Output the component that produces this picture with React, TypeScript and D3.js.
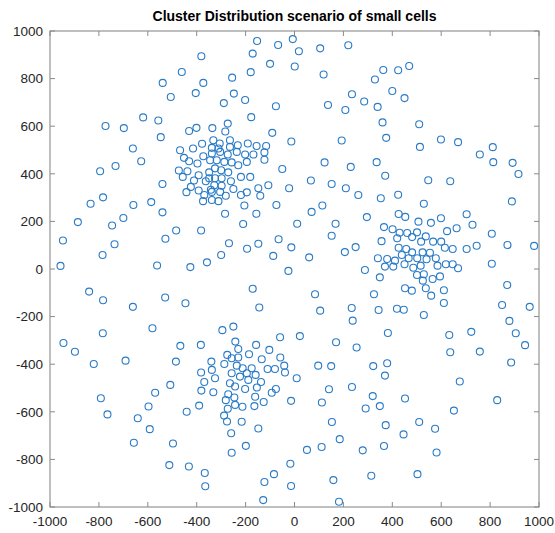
import React from "react";
import * as d3 from "d3";

const xs: number[] = [
  -381,-461,-539,-373,-404,-506,-619,-557,-773,-698,-401,-431,-336,-547,-378,-332,-661,-468,-415,-338,
  -153,-67,-7,18,105,220,-171,-100,1,-179,-255,119,329,-248,-289,-202,-76,-177,235,137,208,285,340,-273,-283,-91,-264,-306,-232,-191,-155,-116,-13,193,
  469,424,363,400,450,360,510,375,599,669,513,811,
  758,813,892,916,336,371,547,637,353,424,529,889,426,453,507,558,599,704,728,366,401,430,461,501,481,537,624,663,807,871,980,356,420,518,567,600,615,647,704,745,426,457,481,524,554,439,341,379,411,467,502,540,578,450,486,516,585,619,647,669,807,370,404,
  349,501,529,525,565,595,452,480,537,611,559,611,325,870,849,962,344,419,447,529,879,905,943,382,633,723,637,758,322,379,370,886,676,
  320,452,349,829,652,373,510,575,446,366,581,314,503,
  -271,-281,-246,-243,-273,-213,-164,-161,-126,-93,-76,-288,-276,-216,-259,-148,-199,-257,-14,112,141,235,291,153,185,51,111,279,-17,-84,-123,-14,159,-128,182,
  -792,-765,-641,-597,-570,-508,-592,-657,-497,-441,-390,-381,-332,-512,-432,-367,-365,
  -840,-783,-661,-529,-446,-581,-784,-945,-898,-821,-691,-467,-383,-485,-340,-382,-338,-369,-325,
  -795,-732,-627,-540,-783,-834,-659,-586,-540,-700,-746,-886,-947,-736,-785,-528,-484,-382,-957,-562,-426,-358,
  -452,-431,-397,-373,-345,-473,-438,-457,-392,-349,-411,-363,-424,-392,-442,-369,-342,-374,-338,
  -311,-264,-338,-304,-273,-236,-202,-168,-123,-123,-318,-287,-257,-230,-195,-325,-300,-271,-349,-325,-298,-260,-219,-181,-328,-298,-250,-338,-304,-219,-195,-281,-311,-148,-140,-107,-50,-22,67,123,230,152,210,261,-205,-74,114,-284,-156,70,296,-210,11,168,152,-268,-194,-148,-65,-13,-300,-87,60,206,250,-25,288,
  -171,84,-144,105,234,238,-250,-295,-59,22,170,254,-242,-230,-157,-103,-186,-275,-257,-230,-58,-134,-287,-236,-212,-175,-110,-80,-42,-39,-257,-195,-159,-223,-189,-264,-137,9,97,150,-243,-202,-154,
];

const ys: number[] = [
  894,828,782,782,739,723,637,624,601,592,593,580,592,554,526,541,506,499,506,509,
  958,941,966,915,927,940,905,862,851,827,804,817,796,737,697,710,684,638,734,689,668,704,681,611,578,572,541,527,520,527,517,517,536,540,
  853,835,836,748,718,616,608,551,544,533,513,512,
  481,449,446,399,449,392,373,369,297,312,274,284,231,219,199,194,213,230,186,176,167,152,151,154,134,137,159,171,148,101,97,117,129,115,115,115,89,84,84,98,89,84,70,70,68,59,45,42,35,45,45,41,45,20,5,14,14,20,20,3,22,10,10,
  -35,-25,-22,-49,-42,-31,-81,-91,-81,-89,-112,-143,-106,-67,-151,-159,-172,-167,-171,-193,-218,-270,-320,-269,-277,-264,-350,-347,-408,-396,-448,-393,-473,
  -534,-544,-576,-551,-595,-656,-643,-671,-695,-744,-771,-869,-862,
  -526,-551,-540,-571,-587,-579,-576,-537,-559,-520,-504,-616,-641,-642,-690,-670,-743,-772,-554,-561,-505,-496,-586,-643,-715,-760,-748,-762,-818,-862,-895,-912,-887,-971,-978,
  -543,-611,-627,-578,-520,-487,-673,-730,-733,-600,-574,-511,-518,-824,-830,-857,-913,
  -95,-131,-159,-120,-144,-249,-270,-311,-348,-399,-385,-323,-319,-389,-389,-435,-424,-475,-459,
  411,433,453,357,301,274,269,281,238,214,183,197,120,104,59,127,162,162,13,15,8,28,
  467,453,443,474,457,414,411,387,394,406,372,369,345,330,323,311,333,285,290,
  506,513,485,492,481,492,481,481,490,459,457,450,448,436,450,423,415,406,381,381,381,369,387,387,352,350,336,324,324,311,322,308,285,339,308,352,420,339,372,448,429,357,339,311,267,269,267,232,232,240,218,189,190,190,140,108,85,106,125,91,59,55,49,71,92,-8,-4,
  -83,-106,-162,-175,-164,-217,-242,-257,-287,-282,-308,-330,-305,-336,-319,-340,-358,-361,-375,-372,-372,-379,-399,-406,-417,-417,-420,-420,-406,-435,-438,-438,-445,-452,-466,-480,-475,-459,-406,-408,-494,-504,-498,
];

const xTicks: number[] = [-1000, -800, -600, -400, -200, 0, 200, 400, 600, 800, 1000];
const yTicks: number[] = [-1000, -800, -600, -400, -200, 0, 200, 400, 600, 800, 1000];
const title = "Cluster Distribution scenario of small cells";

export default function App() {
  const W = 555, H = 533;
  const L = 50, R = 539, T = 31, B = 507;
  const x = d3.scaleLinear().domain([-1000, 1000]).range([L, R]);
  const y = d3.scaleLinear().domain([-1000, 1000]).range([B, T]);
  const tickLen = 5;
  const axisColor = "#8a8a8a";
  const textColor = "#262626";
  const font = "'Liberation Sans', Arial, Helvetica, sans-serif";
  const n = Math.min(xs.length, ys.length);
  const pts = d3.range(n).map((i) => [xs[i], ys[i]]);
  return (
    <svg width={W} height={H} style={{ position: "absolute", left: 0, top: 0, background: "#fff" }}>
      <rect x={0} y={0} width={W} height={H} fill="#fff" />
      {pts.map((p, i) => (
        <circle key={i} cx={x(p[0])} cy={y(p[1])} r={3.5} fill="none" stroke="#2a7bc6" strokeWidth={1.1} />
      ))}
      <rect x={L} y={T} width={R - L} height={B - T} fill="none" stroke={axisColor} strokeWidth={1.1} />
      {xTicks.map((t) => (
        <g key={"x" + t}>
          <line x1={x(t)} x2={x(t)} y1={B} y2={B - tickLen} stroke={axisColor} />
          <line x1={x(t)} x2={x(t)} y1={T} y2={T + tickLen} stroke={axisColor} />
          <text x={x(t)} y={B + 19} textAnchor="middle" fontFamily={font} fontSize={13.5} fill={textColor}>
            {t}
          </text>
        </g>
      ))}
      {yTicks.map((t) => (
        <g key={"y" + t}>
          <line x1={L} x2={L + tickLen} y1={y(t)} y2={y(t)} stroke={axisColor} />
          <line x1={R} x2={R - tickLen} y1={y(t)} y2={y(t)} stroke={axisColor} />
          <text x={L - 7} y={y(t)} dy="0.35em" textAnchor="end" fontFamily={font} fontSize={13.5} fill={textColor}>
            {t}
          </text>
        </g>
      ))}
      <text x={(L + R) / 2} y={21} textAnchor="middle" fontFamily={font} fontSize={14} fontWeight="bold" fill="#000">
        {title}
      </text>
    </svg>
  );
}
